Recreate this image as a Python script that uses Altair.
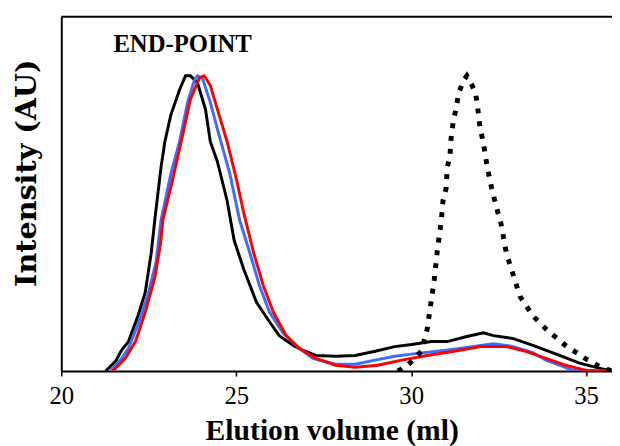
import altair as alt
import pandas as pd

# Elution volume (ml) and normalised intensity for each trace
black_x = [21.27, 21.55, 21.72, 21.92, 22.20, 22.40, 22.57, 22.68, 22.85, 22.96, 23.13, 23.38, 23.55,
           23.69, 23.89, 24.12, 24.26, 24.46, 24.74, 24.94, 25.22, 25.58, 25.95, 26.23, 26.63, 26.91,
           27.28, 27.84, 28.40, 28.97, 29.53, 30.01, 30.58, 31.03, 31.59, 32.07, 32.35, 32.92, 33.48,
           34.24, 34.81, 35.37, 35.74]
black_y = [0.000, 0.033, 0.070, 0.100, 0.190, 0.267, 0.400, 0.520, 0.690, 0.777, 0.867, 0.953, 1.000,
           1.000, 0.977, 0.887, 0.777, 0.710, 0.577, 0.443, 0.343, 0.233, 0.167, 0.120, 0.087, 0.070,
           0.053, 0.050, 0.053, 0.067, 0.083, 0.090, 0.100, 0.100, 0.117, 0.130, 0.120, 0.110, 0.087,
           0.053, 0.027, 0.010, 0.000]

blue_x = [21.41, 21.69, 21.92, 22.20, 22.48, 22.71, 22.85, 23.13, 23.38, 23.61, 23.81, 23.89, 24.03,
          24.26, 24.46, 24.82, 25.10, 25.39, 25.67, 25.95, 26.35, 26.80, 27.19, 27.84, 28.40, 28.97,
          29.53, 30.18, 30.94, 31.59, 32.35, 32.92, 33.48, 33.85, 34.24, 34.61, 35.17, 35.74]
blue_y = [0.000, 0.037, 0.077, 0.160, 0.260, 0.370, 0.510, 0.667, 0.777, 0.910, 0.987, 1.000, 0.993,
          0.910, 0.820, 0.667, 0.510, 0.400, 0.287, 0.200, 0.127, 0.077, 0.043, 0.023, 0.023, 0.037,
          0.050, 0.060, 0.070, 0.080, 0.093, 0.083, 0.063, 0.037, 0.020, 0.003, 0.000, 0.000]

red_x = [21.47, 21.83, 22.12, 22.40, 22.68, 22.85, 22.90, 23.19, 23.47, 23.69, 23.95, 24.09, 24.26,
         24.46, 24.74, 25.02, 25.22, 25.50, 25.78, 26.06, 26.43, 26.80, 27.28, 27.84, 28.40, 29.05,
         29.73, 30.46, 31.22, 31.99, 32.35, 32.72, 33.28, 33.85, 34.41, 34.97, 35.37, 35.74]
red_y = [0.000, 0.043, 0.100, 0.200, 0.320, 0.443, 0.510, 0.653, 0.800, 0.920, 0.993, 1.000, 0.967,
         0.887, 0.777, 0.643, 0.533, 0.400, 0.287, 0.200, 0.120, 0.077, 0.043, 0.020, 0.013, 0.020,
         0.037, 0.053, 0.067, 0.083, 0.083, 0.083, 0.067, 0.043, 0.020, 0.003, 0.000, 0.000]

dot_x = [29.62, 29.90, 30.29, 30.46, 30.58, 30.66, 30.74, 30.86, 30.91, 31.00, 31.03, 31.11, 31.14,
         31.20, 31.28, 31.36, 31.51, 31.59, 31.70, 31.84, 31.90, 31.96, 32.07, 32.18, 32.30, 32.44,
         32.55, 32.72, 33.11, 33.48, 33.85, 34.41, 34.97, 35.37, 35.74]
dot_y = [0.000, 0.020, 0.067, 0.143, 0.243, 0.310, 0.400, 0.510, 0.577, 0.620, 0.687, 0.733, 0.787,
         0.843, 0.887, 0.943, 0.987, 1.000, 0.977, 0.943, 0.893, 0.833, 0.767, 0.687, 0.620, 0.553,
         0.510, 0.400, 0.253, 0.187, 0.143, 0.087, 0.043, 0.017, 0.000]

x_ticks = [20, 25, 30, 35]
x_domain = [20, 35.74]
y_domain = [0, 1.2]
label_text = ["END-POINT"]
label_x = [21.49]
label_y = [1.108]

W, H = 558, 359
SERIF = "'Liberation Serif', 'Times New Roman', Times, serif"
WIDE_SERIF = "'DejaVu Serif', 'Liberation Serif', serif"


def frame(xs, ys):
    return pd.DataFrame({"v": xs, "i": ys, "o": list(range(len(xs)))})


X = alt.X("v:Q", scale=alt.Scale(domain=x_domain, nice=False, zero=False),
          axis=alt.Axis(values=x_ticks, title="Elution volume (ml)", grid=False,
                        domain=True, domainColor="black", domainWidth=2,
                        ticks=True, tickColor="black", tickSize=5, tickWidth=1.5,
                        labelFont=SERIF, labelFontSize=25, labelColor="black",
                        labelPadding=8, labelFlush=False,
                        titleFont=SERIF, titleFontSize=30, titleFontWeight="bold",
                        titleColor="black", titlePadding=7, titleX=274))
Y = alt.Y("i:Q", scale=alt.Scale(domain=y_domain, nice=False, zero=True),
          axis=alt.Axis(title="Intensity (AU)", grid=False, labels=False, ticks=False,
                        domain=True, domainColor="black", domainWidth=2,
                        titleFont=WIDE_SERIF, titleFontSize=29, titleFontWeight="bold",
                        titleColor="black", titlePadding=20, titleY=158))


def trace(xs, ys, color, dash=None, width=3):
    kw = dict(color=color, strokeWidth=width, clip=True)
    if dash:
        kw.update(strokeDash=dash, strokeCap="butt")
    return alt.Chart(frame(xs, ys)).mark_line(**kw).encode(x=X, y=Y, order="o:Q")


black = trace(black_x, black_y, "black")
blue = trace(blue_x, blue_y, "#3D6CFF")
red = trace(red_x, red_y, "#FF0000")
dotted = trace(dot_x, dot_y, "black", dash=[5, 8], width=5)

text = alt.Chart(pd.DataFrame({"t": label_text, "v": label_x, "i": label_y})).mark_text(
    font=SERIF, fontSize=25, fontWeight="bold", color="black",
    align="left", baseline="middle").encode(x=alt.X("v:Q"), y=alt.Y("i:Q"), text="t:N")

top = alt.Chart(pd.DataFrame({"a": [0]})).mark_rule(color="black", strokeWidth=2).encode(
    x=alt.value(0), x2=alt.value(W), y=alt.value(0))

chart = alt.layer(black, blue, red, dotted, text, top).properties(
    width=W, height=H,
    autosize=alt.AutoSizeParams(type="none"),
    padding={"left": 54, "top": 6, "right": 0, "bottom": 73},
).configure_view(stroke=None)

chart.save("out.html", embed_options={"renderer": "svg", "actions": False})
